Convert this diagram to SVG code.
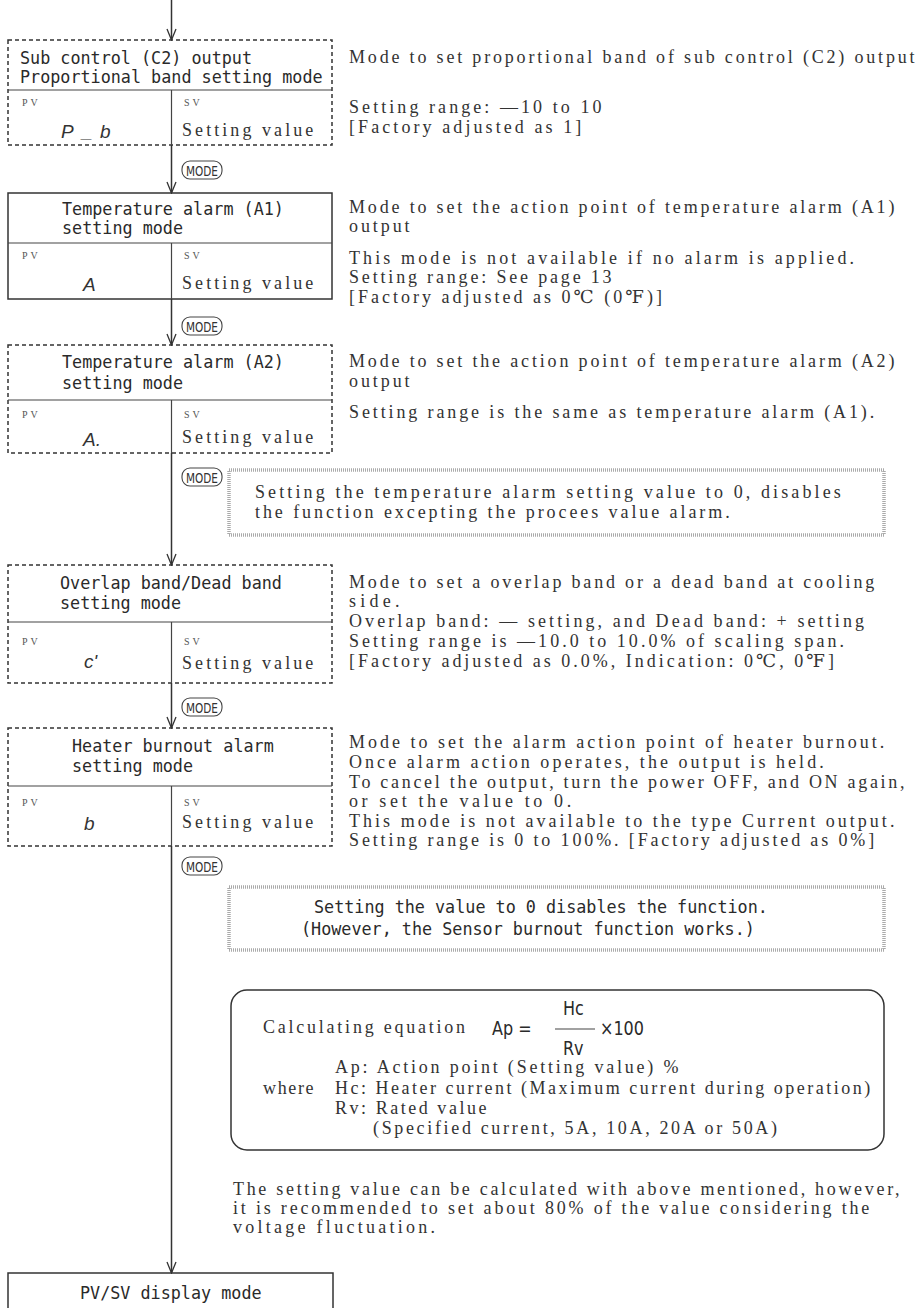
<svg xmlns="http://www.w3.org/2000/svg" width="921" height="1308" viewBox="0 0 921 1308">
<defs>
<style>
.t{font-family:"DejaVu Sans Mono",monospace;font-size:18px;fill:#2a2a2a}
.f{font-family:"DejaVu Sans",sans-serif;font-size:20px;fill:#2a2a2a}
.s{font-family:"Liberation Serif","DejaVu Serif",serif;font-size:18px;fill:#333}
.lbl{font-family:"Liberation Serif",serif;font-size:10px;fill:#555;letter-spacing:3px}
.seg{font-family:"Liberation Sans",sans-serif;font-style:italic;font-size:19px;fill:#333}
.box{fill:none;stroke:#333;stroke-width:1.5}
.dash{stroke-dasharray:4 3}
.div{stroke:#444;stroke-width:1.2;fill:none}
.note{fill:none;stroke:#aaa;stroke-width:3.5;stroke-dasharray:1 1}
.conn{stroke:#333;stroke-width:1.5;fill:none;marker-end:url(#ah)}
.mode rect{fill:none;stroke:#444;stroke-width:1.1}
.mode text{font-family:"DejaVu Sans",sans-serif;font-size:14px;fill:#333}
</style>
<marker id="ah" viewBox="-12 -6 13 12" refX="0" refY="0" markerWidth="13" markerHeight="12" orient="auto" markerUnits="userSpaceOnUse">
<path d="M-11,-4.5 L0,0 L-11,4.5" fill="none" stroke="#333" stroke-width="1.3"/>
</marker>
</defs>

<g id="connectors">
<path class="conn" d="M171.5,0 V40"/>
<path class="conn" d="M171.5,145 V193"/>
<path class="conn" d="M171.5,299 V345"/>
<path class="conn" d="M171.5,453 V565"/>
<path class="conn" d="M171.5,683 V728"/>
<path class="conn" d="M171.5,846 V1273"/>
<g class="mode"><rect x="182" y="161" width="40" height="18" rx="8"/><text x="202" y="175.5" text-anchor="middle" textLength="32" lengthAdjust="spacingAndGlyphs">MODE</text></g>
<g class="mode"><rect x="182" y="317" width="40" height="18" rx="8"/><text x="202" y="331.5" text-anchor="middle" textLength="32" lengthAdjust="spacingAndGlyphs">MODE</text></g>
<g class="mode"><rect x="182" y="468" width="40" height="18" rx="8"/><text x="202" y="482.5" text-anchor="middle" textLength="32" lengthAdjust="spacingAndGlyphs">MODE</text></g>
<g class="mode"><rect x="182" y="698" width="40" height="18" rx="8"/><text x="202" y="712.5" text-anchor="middle" textLength="32" lengthAdjust="spacingAndGlyphs">MODE</text></g>
<g class="mode"><rect x="182" y="857" width="40" height="18" rx="8"/><text x="202" y="871.5" text-anchor="middle" textLength="32" lengthAdjust="spacingAndGlyphs">MODE</text></g>
</g>

<g id="node-c2">
<rect class="box dash" x="8" y="40" width="324" height="105"/>
<line class="div" x1="8" y1="90" x2="332" y2="90"/>
<line class="div" x1="171.5" y1="90" x2="171.5" y2="145"/>
<text class="t" transform="translate(20 64) scale(.932 1)">Sub control (C2) output</text>
<text class="t" transform="translate(20 83) scale(.932 1)">Proportional band setting mode</text>
<text class="lbl" x="22" y="106">PV</text>
<text class="lbl" x="184" y="106">SV</text>
<text class="seg" x="61 82 100" y="138">P_b</text>
<text class="s" x="182" y="136" textLength="131.3" lengthAdjust="spacing">Setting value</text>
</g>
<g id="desc-c2">
<text class="s" x="349" y="63" textLength="565.6" lengthAdjust="spacing">Mode to set proportional band of sub control (C2) output</text>
<text class="s" x="349" y="113" textLength="252.5" lengthAdjust="spacing">Setting range: —10 to 10</text>
<text class="s" x="349" y="133" textLength="232.3" lengthAdjust="spacing">[Factory adjusted as 1]</text>
</g>

<g id="node-a1">
<rect class="box" x="8" y="193" width="324" height="106"/>
<line class="div" x1="8" y1="243" x2="332" y2="243"/>
<line class="div" x1="171.5" y1="243" x2="171.5" y2="299"/>
<text class="t" transform="translate(62 215) scale(.932 1)">Temperature alarm (A1)</text>
<text class="t" transform="translate(62 234) scale(.932 1)">setting mode</text>
<text class="lbl" x="22" y="259">PV</text>
<text class="lbl" x="184" y="259">SV</text>
<text class="seg" x="83" y="291">A</text>
<text class="s" x="182" y="289" textLength="131.3" lengthAdjust="spacing">Setting value</text>
</g>
<g id="desc-a1">
<text class="s" x="349" y="213" textLength="545.4" lengthAdjust="spacing">Mode to set the action point of temperature alarm (A1)</text>
<text class="s" x="349" y="232" textLength="60.6" lengthAdjust="spacing">output</text>
<text class="s" x="349" y="264" textLength="505" lengthAdjust="spacing">This mode is not available if no alarm is applied.</text>
<text class="s" x="349" y="283" textLength="262.6" lengthAdjust="spacing">Setting range: See page 13</text>
<text class="s" x="349" y="303" textLength="313" lengthAdjust="spacing">[Factory adjusted as 0℃ (0℉)]</text>
</g>

<g id="node-a2">
<rect class="box dash" x="8" y="345" width="324" height="108"/>
<line class="div" x1="8" y1="400" x2="332" y2="400"/>
<line class="div" x1="171.5" y1="400" x2="171.5" y2="453"/>
<text class="t" transform="translate(62 368) scale(.932 1)">Temperature alarm (A2)</text>
<text class="t" transform="translate(62 389) scale(.932 1)">setting mode</text>
<text class="lbl" x="22" y="418">PV</text>
<text class="lbl" x="184" y="418">SV</text>
<text class="seg" x="83" y="446">A.</text>
<text class="s" x="182" y="443" textLength="131.3" lengthAdjust="spacing">Setting value</text>
</g>
<g id="desc-a2">
<text class="s" x="349" y="367" textLength="545.4" lengthAdjust="spacing">Mode to set the action point of temperature alarm (A2)</text>
<text class="s" x="349" y="387" textLength="60.6" lengthAdjust="spacing">output</text>
<text class="s" x="349" y="418" textLength="525.2" lengthAdjust="spacing">Setting range is the same as temperature alarm (A1).</text>
</g>

<g id="note-alarm">
<rect class="note" x="229" y="470" width="655" height="65"/>
<text class="s" x="255" y="498" textLength="585.8" lengthAdjust="spacing">Setting the temperature alarm setting value to 0, disables</text>
<text class="s" x="255" y="518" textLength="474.7" lengthAdjust="spacing">the function excepting the procees value alarm.</text>
</g>

<g id="node-db">
<rect class="box dash" x="8" y="565" width="324" height="118"/>
<line class="div" x1="8" y1="622" x2="332" y2="622"/>
<line class="div" x1="171.5" y1="622" x2="171.5" y2="683"/>
<text class="t" transform="translate(60 589) scale(.932 1)">Overlap band/Dead band</text>
<text class="t" transform="translate(60 609) scale(.932 1)">setting mode</text>
<text class="lbl" x="22" y="645">PV</text>
<text class="lbl" x="184" y="645">SV</text>
<text class="seg" x="84" y="668">c'</text>
<text class="s" x="182" y="669" textLength="131.3" lengthAdjust="spacing">Setting value</text>
</g>
<g id="desc-db">
<text class="s" x="349" y="588" textLength="525.2" lengthAdjust="spacing">Mode to set a overlap band or a dead band at cooling</text>
<text class="s" x="349" y="607" textLength="50.5" lengthAdjust="spacing">side.</text>
<text class="s" x="349" y="627" textLength="515" lengthAdjust="spacing">Overlap band: — setting, and Dead band: + setting</text>
<text class="s" x="349" y="647" textLength="495" lengthAdjust="spacing">Setting range is —10.0 to 10.0% of scaling span.</text>
<text class="s" x="349" y="667" textLength="485" lengthAdjust="spacing">[Factory adjusted as 0.0%, Indication: 0℃, 0℉]</text>
</g>

<g id="node-hb">
<rect class="box dash" x="8" y="728" width="324" height="118"/>
<line class="div" x1="8" y1="786" x2="332" y2="786"/>
<line class="div" x1="171.5" y1="786" x2="171.5" y2="846"/>
<text class="t" transform="translate(72 752) scale(.932 1)">Heater burnout alarm</text>
<text class="t" transform="translate(72 772) scale(.932 1)">setting mode</text>
<text class="lbl" x="22" y="806">PV</text>
<text class="lbl" x="184" y="806">SV</text>
<text class="seg" x="84" y="830">b</text>
<text class="s" x="182" y="828" textLength="131.3" lengthAdjust="spacing">Setting value</text>
</g>
<g id="desc-hb">
<text class="s" x="349" y="748" textLength="535.3" lengthAdjust="spacing">Mode to set the alarm action point of heater burnout.</text>
<text class="s" x="349" y="768" textLength="474.7" lengthAdjust="spacing">Once alarm action operates, the output is held.</text>
<text class="s" x="349" y="788" textLength="555.5" lengthAdjust="spacing">To cancel the output, turn the power OFF, and ON again,</text>
<text class="s" x="349" y="807" textLength="222.2" lengthAdjust="spacing">or set the value to 0.</text>
<text class="s" x="349" y="827" textLength="545.4" lengthAdjust="spacing">This mode is not available to the type Current output.</text>
<text class="s" x="349" y="846" textLength="525.2" lengthAdjust="spacing">Setting range is 0 to 100%. [Factory adjusted as 0%]</text>
</g>

<g id="note-hb">
<rect class="note" x="229" y="887" width="655" height="63"/>
<text class="t" transform="translate(314 913) scale(.932 1)">Setting the value to 0 disables the function.</text>
<text class="t" transform="translate(301 935) scale(.932 1)">(However, the Sensor burnout function works.)</text>
</g>

<g id="equation">
<rect class="box" x="231" y="990" width="653" height="160" rx="16"/>
<text class="s" x="263" y="1033" textLength="202" lengthAdjust="spacing">Calculating equation</text>
<text class="f" transform="translate(492 1035) scale(.8 1)">Ap =</text>
<text class="f" transform="translate(563 1015) scale(.8 1)">Hc</text>
<line class="div" x1="555" y1="1029" x2="595" y2="1029"/>
<text class="f" transform="translate(563 1055) scale(.8 1)">Rv</text>
<text class="f" transform="translate(600 1035) scale(.8 1)">×100</text>
<text class="s" x="335" y="1073" textLength="343.4" lengthAdjust="spacing">Ap: Action point (Setting value) %</text>
<text class="s" x="263" y="1094" textLength="50.5" lengthAdjust="spacing">where</text>
<text class="s" x="335" y="1094" textLength="535.3" lengthAdjust="spacing">Hc: Heater current (Maximum current during operation)</text>
<text class="s" x="335" y="1114" textLength="151.5" lengthAdjust="spacing">Rv: Rated value</text>
<text class="s" x="373" y="1134" textLength="404" lengthAdjust="spacing">(Specified current, 5A, 10A, 20A or 50A)</text>
</g>

<g id="remark">
<text class="s" x="233" y="1195" textLength="666.6" lengthAdjust="spacing">The setting value can be calculated with above mentioned, however,</text>
<text class="s" x="233" y="1214" textLength="636.3" lengthAdjust="spacing">it is recommended to set about 80% of the value considering the</text>
<text class="s" x="233" y="1233" textLength="202" lengthAdjust="spacing">voltage fluctuation.</text>
</g>

<g id="node-pvsv">
<rect class="box" x="8" y="1273" width="325" height="60"/>
<text class="t" transform="translate(80 1299) scale(.932 1)">PV/SV display mode</text>
</g>
</svg>
